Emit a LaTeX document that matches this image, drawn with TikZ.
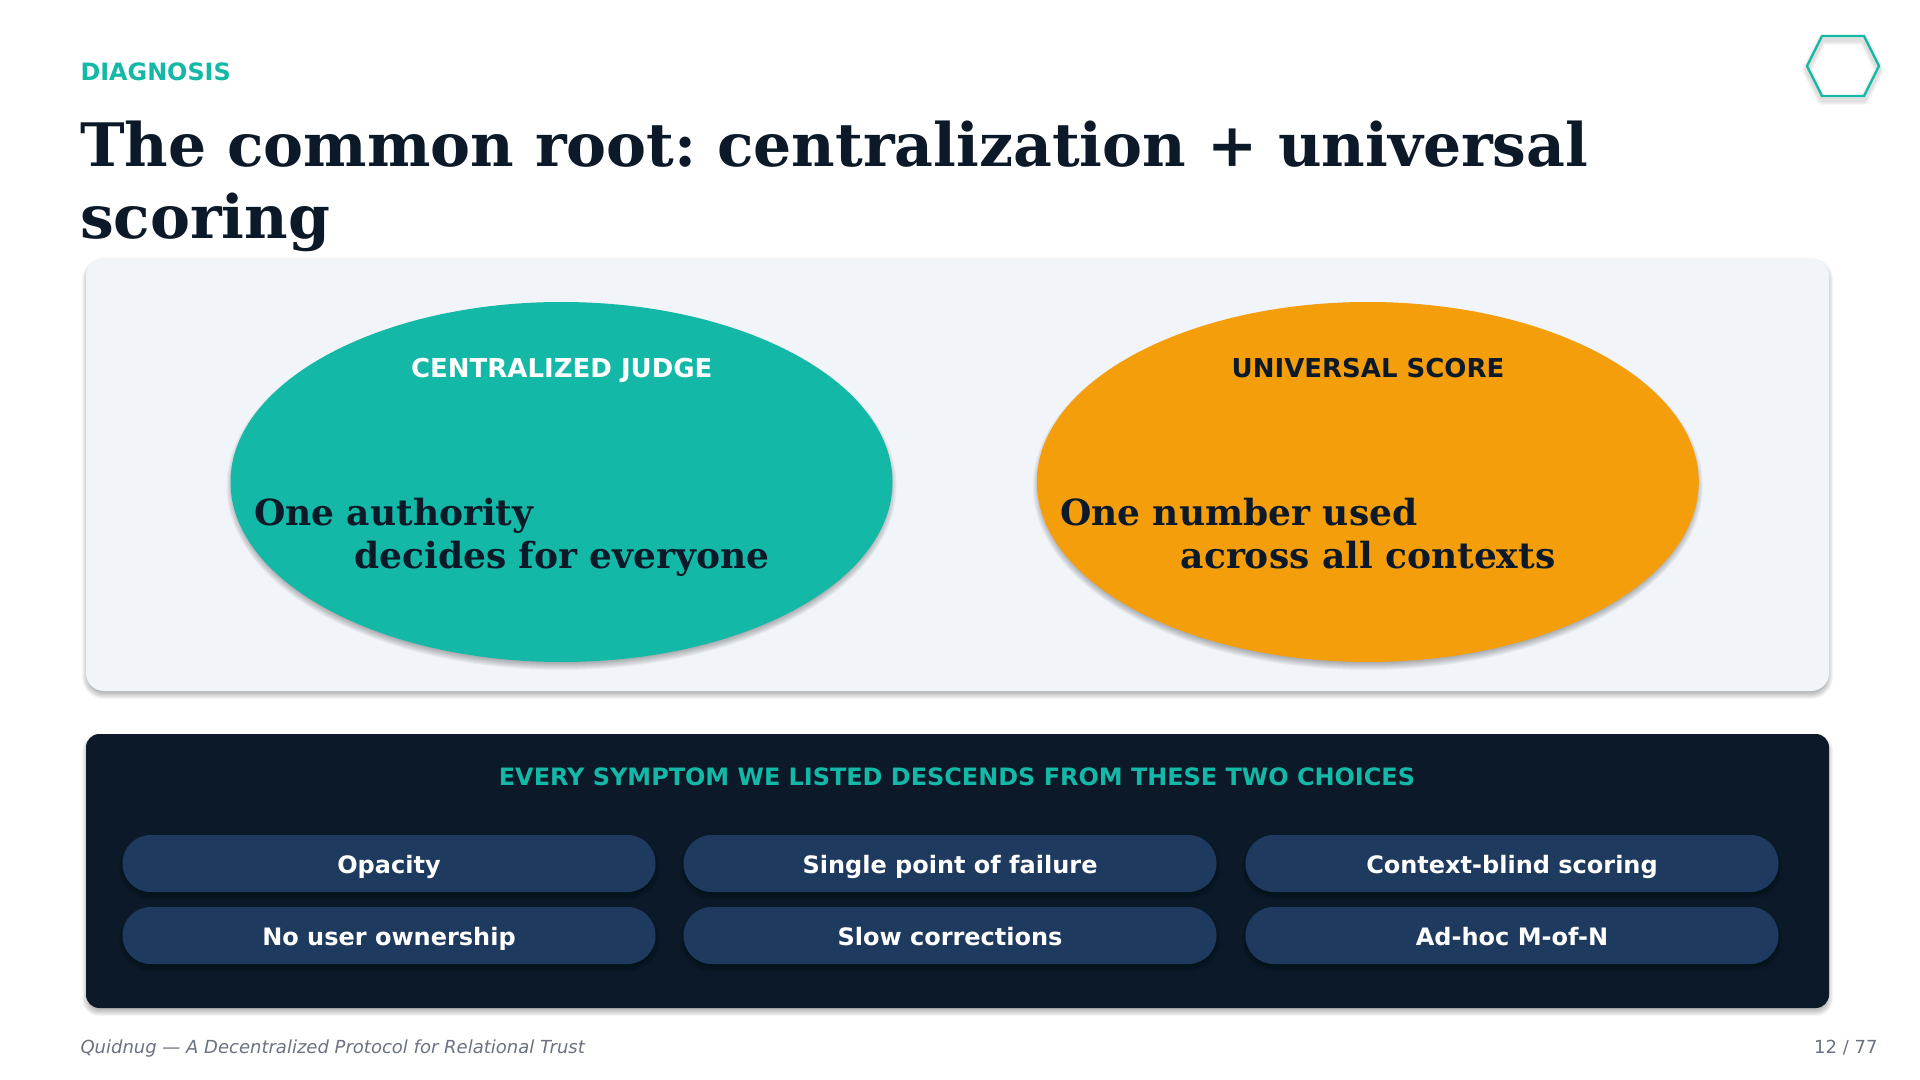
\documentclass[tikz,border=0pt]{standalone}
\usepackage{fontspec}
\setmainfont{DejaVu Sans}
\newfontfamily\serifbold{DejaVu Serif}[BoldFont={DejaVu Serif Bold}]
\usetikzlibrary{shapes.geometric}
\definecolor{teal}{HTML}{14B8A6}
\definecolor{amber}{HTML}{F59E0B}
\definecolor{ink}{HTML}{0B1929}
\definecolor{pill}{HTML}{1E3A5F}
\definecolor{panel}{HTML}{F1F5F9}
\definecolor{foot}{HTML}{6B7280}
\newcommand{\sz}[1]{\fontsize{#1}{#1}\selectfont}
\tikzset{
  x=0.75pt,y=-0.75pt,
  txt/.style={inner sep=0pt,outer sep=0pt,anchor=base},
  txtl/.style={inner sep=0pt,outer sep=0pt,anchor=base west},
  txtr/.style={inner sep=0pt,outer sep=0pt,anchor=base east},
  shad/.style={fill=black,opacity=0.038},
  linesh/.style={draw=black,opacity=0.03,line join=round},
}
% rounded-rectangle shadow: x1,y1,x2,y2,radius(px),offset(px)
\newcommand{\rectshadow}[6]{%
  \foreach \e in {-3,-2,-1,0,1,2,3,4}{%
    \fill[shad,rounded corners={(#5+\e)*0.75pt}] ({#1-\e},{#2-\e+#6}) rectangle ({#3+\e},{#4+\e+#6});}%
}
\newcommand{\ellshadow}[5]{%
  \foreach \e in {-3,-2,-1,0,1,2,3,4}{%
    \fill[shad] (#1,{#2+#5}) ellipse [x radius={#3+\e},y radius={#4+\e}];}%
}
\begin{document}
\frenchspacing
\begin{tikzpicture}
\useasboundingbox (0,0) rectangle (1920,1080);
\fill[white] (0,0) rectangle (1920,1080);

% header
\node[txtl,text=teal] (eyebrow) at (80.5,81) {\sz{17.9}\bfseries DIAGNOSIS};
\node[txtl,text=ink] (title1) at (80,167) {\serifbold\sz{44.97}\bfseries The common root: centralization + universal};
\node[txtl,text=ink] (title2) at (80,239) {\serifbold\sz{44.97}\bfseries scoring};

% hexagon
\foreach \w in {10,8,6,4}{
  \path[linesh,line width=\w*0.75pt,yshift=-4*0.75pt] (1822,36)--(1864,36)--(1879,66)--(1864,96)--(1822,96)--(1807,66)--cycle;
}
\draw[teal,line width=1.8pt,line join=miter] (1822,36)--(1864,36)--(1879,66)--(1864,96)--(1822,96)--(1807,66)--cycle;

% top panel
\rectshadow{86}{258}{1829}{691}{18}{4}
\fill[panel,rounded corners=13.5pt] (86,258) rectangle (1829,691);

% ellipses
\ellshadow{561.5}{482}{331}{180}{4}
\ellshadow{1367.8}{482}{331}{180}{4}
\node[ellipse,fill=teal,minimum width=662*0.75pt,minimum height=360*0.75pt,inner sep=0pt] (judge) at (561.5,482) {};
\node[ellipse,fill=amber,minimum width=662*0.75pt,minimum height=360*0.75pt,inner sep=0pt] (score) at (1367.8,482) {};
\node[txt,text=white] (judgeh) at (561.8,378) {\sz{19.5}\bfseries CENTRALIZED JUDGE};
\node[txt,text=ink] (scoreh) at (1368,378) {\sz{19.5}\bfseries UNIVERSAL SCORE};
\node[txtl,text=ink] (j1) at (254,525) {\serifbold\sz{27}\bfseries One authority};
\node[txt,text=ink] (j2) at (562,568) {\serifbold\sz{27}\bfseries decides for everyone};
\node[txtl,text=ink] (s1) at (1060,525) {\serifbold\sz{27}\bfseries One number used};
\node[txt,text=ink] (s2) at (1368,568) {\serifbold\sz{27}\bfseries across all contexts};

% bottom panel
\rectshadow{86}{734}{1829}{1008}{13}{4}
\fill[ink,rounded corners=10pt] (86,734) rectangle (1829,1008);
\node[txt,text=teal] (sub) at (957,785) {\sz{17.95}\bfseries EVERY SYMPTOM WE LISTED DESCENDS FROM THESE TWO CHOICES};

% pills
\foreach \nm/\xa/\ya/\lab in {p1/122.5/835/Opacity, p2/683.5/835/Single point of failure, p3/1245.5/835/Context-blind scoring, p4/122.5/907/No user ownership, p5/683.5/907/Slow corrections, p6/1245.5/907/Ad-hoc M-of-N}{
  \rectshadow{\xa}{\ya}{\xa+533}{\ya+57}{28}{4}
  \fill[pill,rounded corners=21pt] (\xa,\ya) rectangle ++(533,57);
  \node[txt,text=white] (\nm) at ({\xa+266.5},{\ya+38}) {\sz{18}\bfseries \lab};
}

% footer
\node[txtl,text=foot] (footl) at (80.5,1053) {\sz{13.5}\itshape Quidnug — A Decentralized Protocol for Relational Trust};
\node[txtr,text=foot] (footr) at (1877.5,1053) {\sz{13.5} 12 / 77};
\end{tikzpicture}
\end{document}
